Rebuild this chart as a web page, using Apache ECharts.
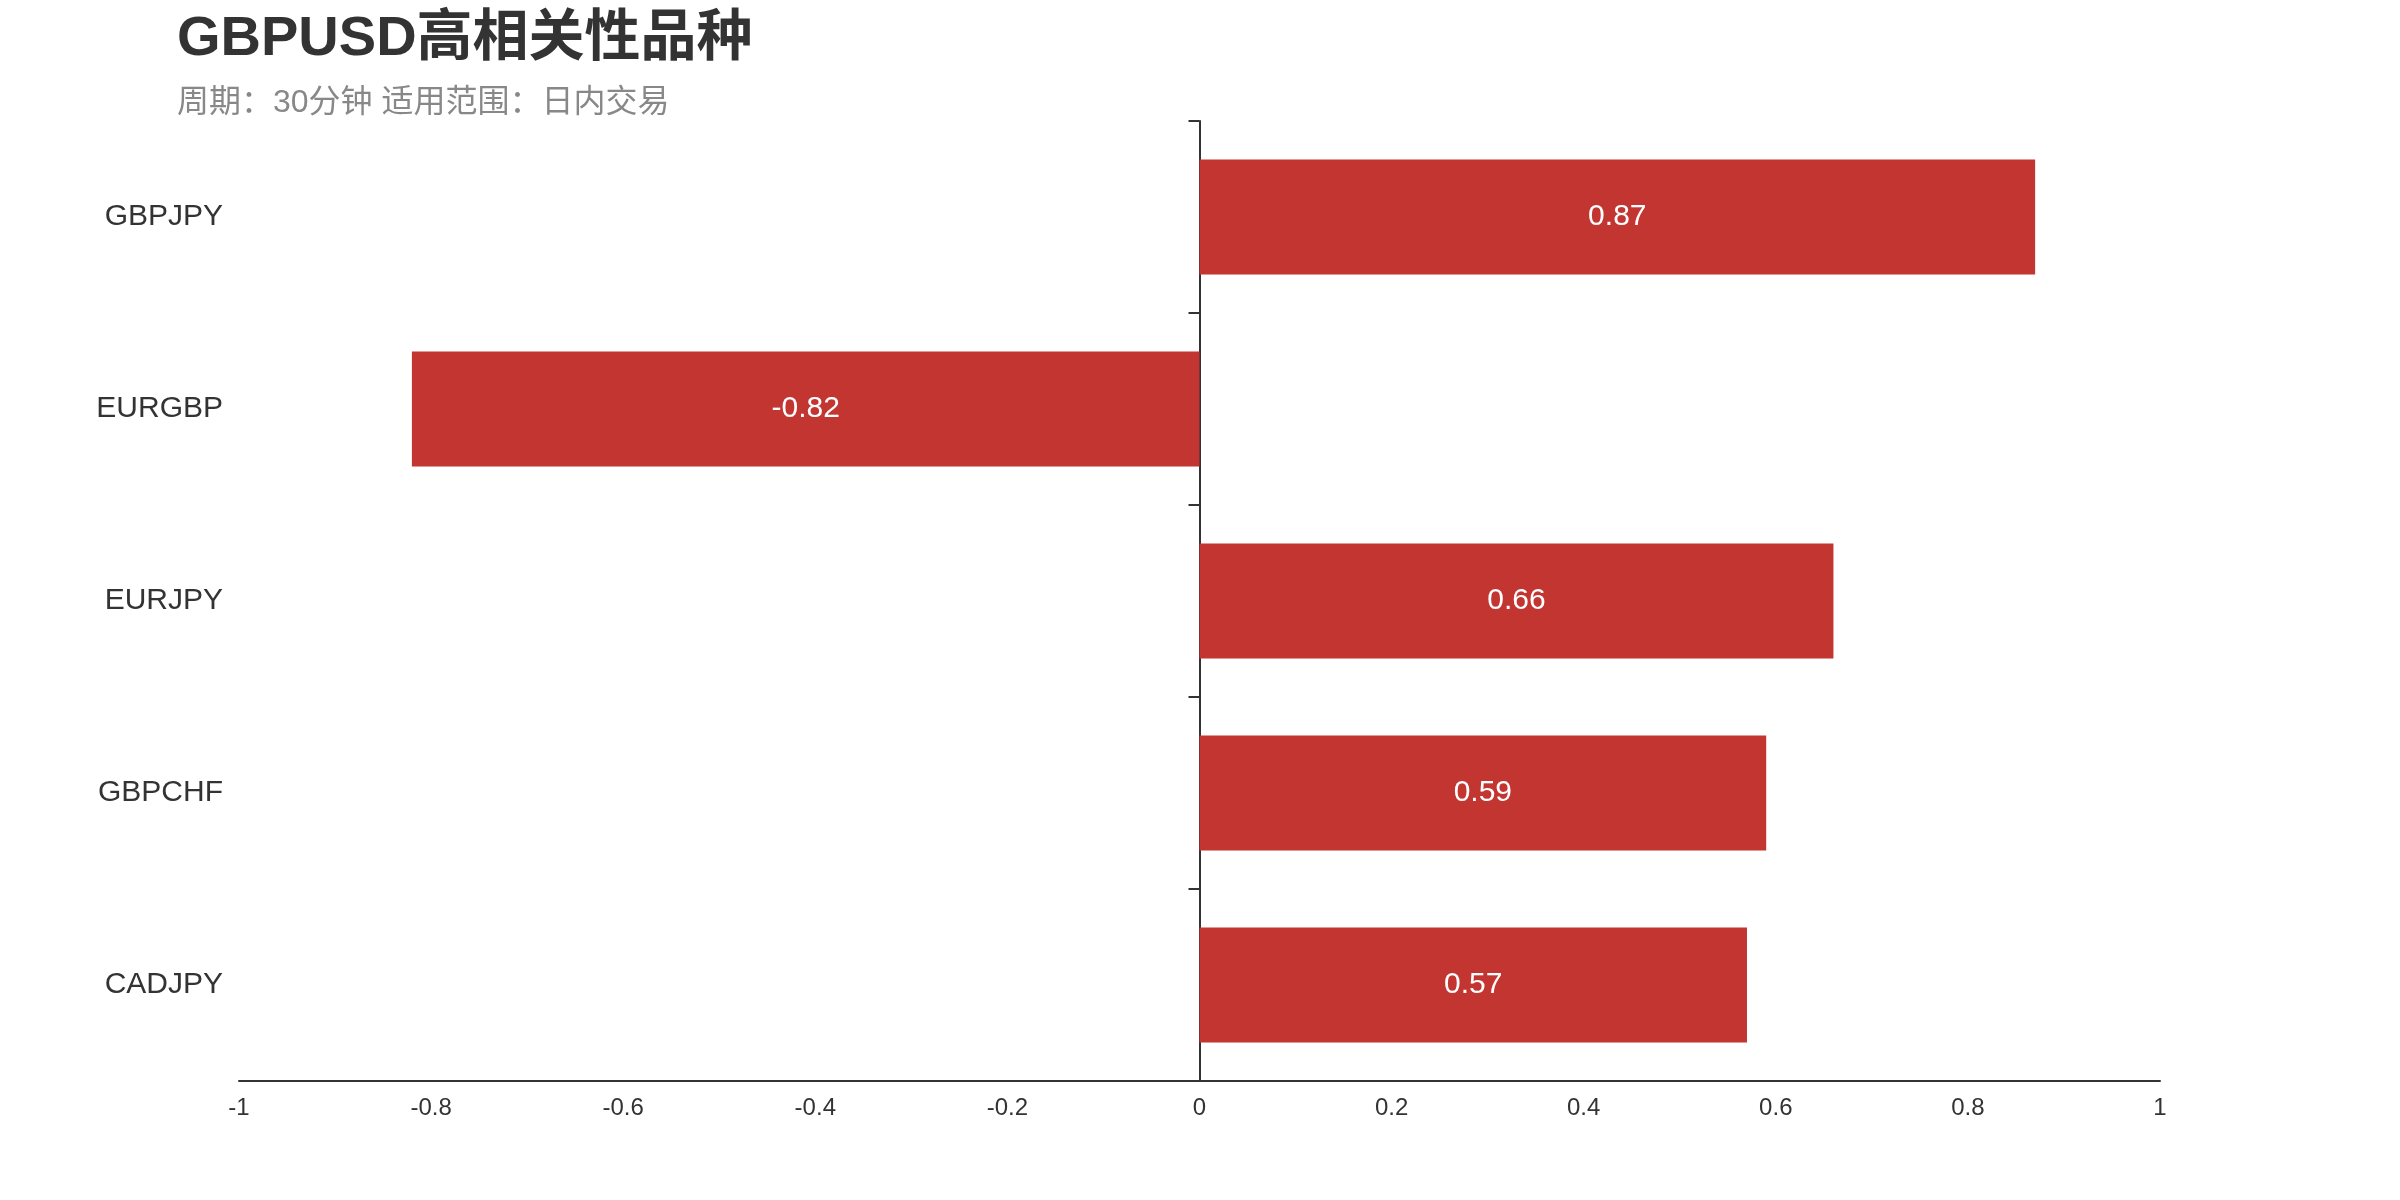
<!DOCTYPE html>
<html>
<head>
<meta charset="utf-8">
<script src="https://cdn.jsdelivr.net/npm/echarts@6/dist/echarts.min.js"></script>
<style>html,body{margin:0;padding:0;background:#fff;}#main{width:2400px;height:1200px;}</style>
</head>
<body>
<div id="main"></div>
<script>
const categories = ['GBPJPY', 'EURGBP', 'EURJPY', 'GBPCHF', 'CADJPY'];
const values = [0.87, -0.82, 0.66, 0.59, 0.57];
const titleText = 'GBPUSD高相关性品种';
const subText = '周期：30分钟 适用范围：日内交易';

const FONT = "'Liberation Sans', 'Noto Sans CJK SC', sans-serif";
const chart = echarts.init(document.getElementById('main'));
chart.setOption({
  backgroundColor: '#fff',
  animation: false,
  title: {
    text: titleText,
    subtext: subText,
    left: 172,
    top: 7,
    itemGap: 19,
    textStyle: { fontSize: 56, fontWeight: 'bold', color: '#333', fontFamily: FONT },
    subtextStyle: { fontSize: 32, color: '#888', fontFamily: FONT }
  },
  grid: { left: 239, right: 240, top: 121, bottom: 119, containLabel: false },
  xAxis: {
    type: 'value',
    min: -1, max: 1, interval: 0.2,
    axisLine: { show: true, lineStyle: { color: '#333', width: 2 } },
    axisTick: { show: false },
    splitLine: { show: false },
    axisLabel: { fontSize: 24, color: '#333', margin: 15, fontFamily: FONT }
  },
  yAxis: [
    {
      type: 'category',
      data: categories,
      inverse: true,
      axisLine: { show: true, onZero: true, lineStyle: { color: '#333', width: 2 } },
      axisTick: { show: true, length: 11, lineStyle: { color: '#333', width: 2 } },
      axisLabel: { show: false },
      splitLine: { show: false }
    },
    {
      type: 'category',
      data: categories,
      inverse: true,
      position: 'left',
      axisLine: { show: false, onZero: false },
      axisTick: { show: false },
      axisLabel: { fontSize: 30, color: '#333', margin: 16, fontFamily: FONT },
      splitLine: { show: false }
    }
  ],
  series: [{
    type: 'bar',
    data: values,
    yAxisIndex: 0,
    barWidth: '60%',
    itemStyle: { color: '#c23531' },
    label: { show: true, position: 'inside', color: '#fff', fontSize: 30, fontFamily: FONT }
  }]
});
</script>
</body>
</html>
